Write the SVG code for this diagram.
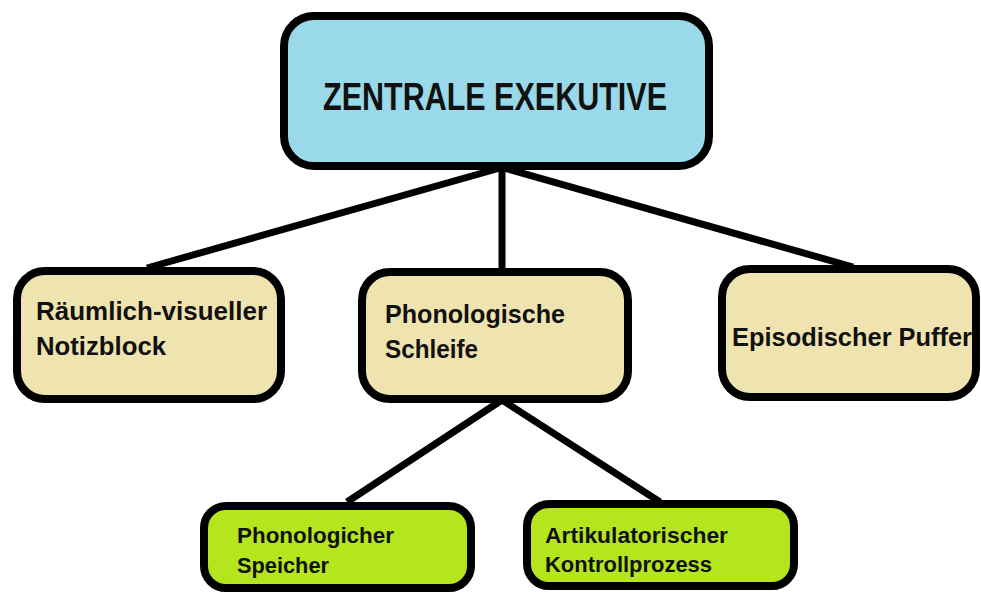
<svg xmlns="http://www.w3.org/2000/svg" width="981" height="594" viewBox="0 0 981 594">
<style>
.box{stroke:#000;stroke-width:8}
.blue{fill:#99D9EA}
.tan{fill:#EFE4B0}
.green{fill:#B5E61D}
.conn{stroke:#000;stroke-width:7;stroke-linecap:butt;fill:none}
text{font-family:"Liberation Sans",Arial,sans-serif;font-weight:bold;fill:#111}
.t1{font-size:38px}
.t2{font-size:26px}
.t3{font-size:22.5px}
</style>
<rect width="981" height="594" fill="#fff"/>
<g id="connectors">
<line class="conn" x1="500" y1="168" x2="147" y2="268"/>
<line class="conn" x1="502" y1="168" x2="502" y2="270"/>
<line class="conn" x1="504" y1="168" x2="853" y2="267"/>
<line class="conn" x1="502" y1="400" x2="347" y2="502"/>
<line class="conn" x1="502" y1="400" x2="660" y2="502"/>
</g>
<g id="zentrale-exekutive">
<rect class="box blue" x="284" y="16" width="425" height="150" rx="30"/>
<text class="t1" x="323" y="110" textLength="344" lengthAdjust="spacingAndGlyphs">ZENTRALE EXEKUTIVE</text>
</g>
<g id="raeumlich-visueller-notizblock">
<rect class="box tan" x="17" y="271" width="264" height="128" rx="28"/>
<text class="t2" x="36" y="320" textLength="231" lengthAdjust="spacingAndGlyphs">Räumlich-visueller</text>
<text class="t2" x="36" y="355" textLength="130" lengthAdjust="spacingAndGlyphs">Notizblock</text>
</g>
<g id="phonologische-schleife">
<rect class="box tan" x="362" y="272" width="266" height="127" rx="28"/>
<text class="t2" x="385" y="323" textLength="180" lengthAdjust="spacingAndGlyphs">Phonologische</text>
<text class="t2" x="385" y="358" textLength="93" lengthAdjust="spacingAndGlyphs">Schleife</text>
</g>
<g id="episodischer-puffer">
<rect class="box tan" x="722" y="269" width="254" height="128" rx="28"/>
<text class="t2" x="732" y="346" textLength="240" lengthAdjust="spacingAndGlyphs">Episodischer Puffer</text>
</g>
<g id="phonologicher-speicher">
<rect class="box green" x="204" y="506" width="267" height="82" rx="22"/>
<text class="t3" x="237" y="543" textLength="157" lengthAdjust="spacingAndGlyphs">Phonologicher</text>
<text class="t3" x="237" y="573" textLength="92" lengthAdjust="spacingAndGlyphs">Speicher</text>
</g>
<g id="artikulatorischer-kontrollprozess">
<rect class="box green" x="527" y="504" width="267" height="82" rx="22"/>
<text class="t3" x="545" y="543" textLength="183" lengthAdjust="spacingAndGlyphs">Artikulatorischer</text>
<text class="t3" x="545" y="572" textLength="167" lengthAdjust="spacingAndGlyphs">Kontrollprozess</text>
</g>
</svg>
